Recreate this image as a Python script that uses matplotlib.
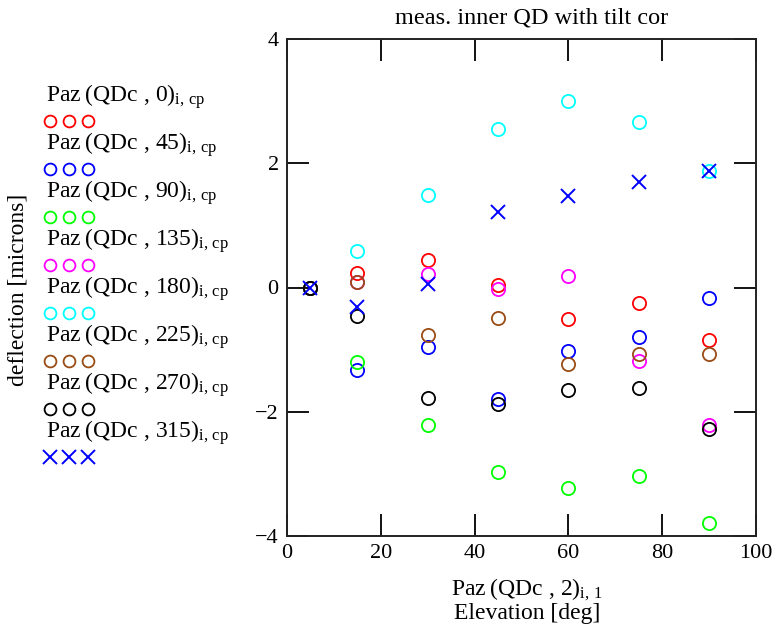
import matplotlib
matplotlib.use("Agg")
import matplotlib.pyplot as plt
import numpy as np

plt.rcParams['font.family'] = ['Liberation Serif', 'DejaVu Serif']
plt.rcParams['mathtext.fontset'] = 'custom'
plt.rcParams['mathtext.rm'] = 'Liberation Serif'
plt.rcParams['mathtext.it'] = 'Liberation Serif'
plt.rcParams['axes.unicode_minus'] = False

elevation = [5, 15, 30, 45, 60, 75, 90]
azimuths = ["0", "45", "90", "135", "180", "225", "270", "315"]
d0   = [0, 0.24, 0.45, 0.04, -0.51, -0.25, -0.85]
d45  = [0, -1.33, -0.95, -1.80, -1.03, -0.79, -0.17]
d90  = [0, -1.20, -2.22, -2.97, -3.23, -3.04, -3.79]
d135 = [0, 0.09, 0.22, -0.02, 0.19, -1.18, -2.21]
d180 = [0, 0.58, 1.49, 2.55, 3.01, 2.67, 1.87]
d225 = [0, 0.09, -0.77, -0.49, -1.23, -1.07, -1.07]
d270 = [0, -0.46, -1.78, -1.88, -1.65, -1.62, -2.27]
d315 = [0, -0.32, 0.06, 1.21, 1.47, 1.70, 1.87]
series = [d0, d45, d90, d135, d180, d225, d270, d315]
colors = ['#ff0000', '#0000ff', '#00ff00', '#ff00ff', '#00ffff', '#994c14', '#000000', '#0000ff']
markers = ['o', 'o', 'o', 'o', 'o', 'o', 'o', 'x']

xticks = [0, 20, 40, 60, 80, 100]
yticks = [-4, -2, 0, 2, 4]

W, H = 780, 629
fig = plt.figure(figsize=(W/100, H/100), dpi=100)
ax = fig.add_axes([287/W, 1-536/H, (756-287)/W, (536-39)/H])

for ys, c, m in zip(series, colors, markers):
    if m == 'o':
        ax.plot(elevation, ys, linestyle='none', marker='o', markersize=9.5,
                markerfacecolor='none', markeredgecolor=c, markeredgewidth=1.3)
    else:
        ax.plot(elevation, ys, linestyle='none', marker='x', markersize=10,
                color=c, markeredgewidth=1.4)

ax.set_xlim(0, 100)
ax.set_ylim(-4, 4)
ax.set_xticks(xticks)
ax.set_yticks(yticks)
ax.set_yticklabels(['\u22124', '\u22122', '0', '2', '4'])
ax.tick_params(direction='in', length=16, width=1.3, top=True, right=True,
               labelsize=16, pad=6, colors='black')
for s in ax.spines.values():
    s.set_linewidth(1.4)
    s.set_color('#222222')

fig.text(532/W, 1-18/H, 'meas. inner QD with tilt cor', fontsize=17.5,
         ha='center', va='center')
fig.text(527/W, 1-590/H, 'Paz\u2009(QDc , 2)$_{\\mathrm{i,\\,1}}$', fontsize=17,
         ha='center', va='center')
fig.text(527/W, 1-613/H, 'Elevation [deg]', fontsize=17,
         ha='center', va='center')
fig.text(18/W, 1-290/H, 'deflection [microns]', rotation=90, fontsize=17,
         ha='center', va='center')

# legend
lax = fig.add_axes([0, 0, 1, 1], facecolor='none')
lax.set_xlim(0, W)
lax.set_ylim(H, 0)
lax.axis('off')
for i, (az, c, m) in enumerate(zip(azimuths, colors, markers)):
    ty = 97 + 48*i
    lax.text(46, ty, 'Paz\u2009(QDc , %s)$_{\\mathrm{i,\\,cp}}$' % az, fontsize=17,
             ha='left', va='center')
    my = ty + 24
    xs = [50, 69, 88]
    if m == 'o':
        lax.plot(xs, [my]*3, linestyle='none', marker='o', markersize=8.5,
                 markerfacecolor='none', markeredgecolor=c, markeredgewidth=1.3)
    else:
        lax.plot(xs, [my]*3, linestyle='none', marker='x', markersize=9.5,
                 color=c, markeredgewidth=1.4)

fig.savefig('out.png', dpi=100)
